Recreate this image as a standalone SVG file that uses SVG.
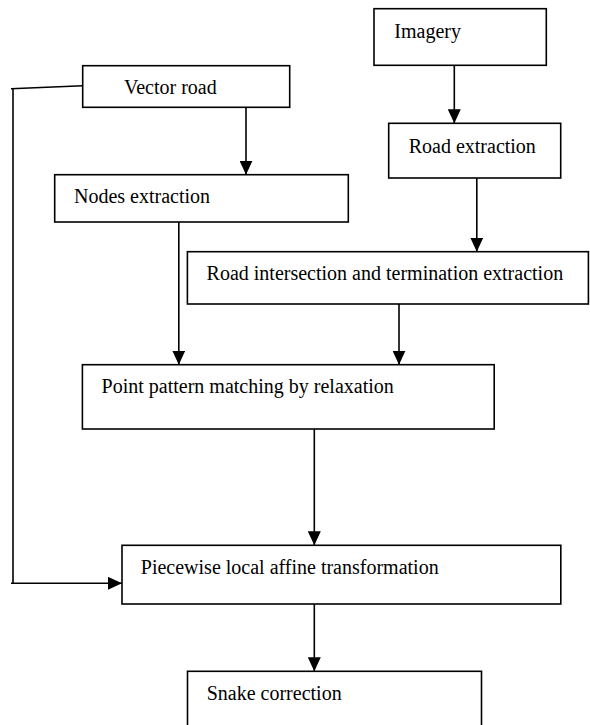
<svg xmlns="http://www.w3.org/2000/svg" width="590" height="725" viewBox="0 0 590 725">
<defs>
<marker id="ah" viewBox="0 0 14 13" refX="14" refY="6.5" markerWidth="14" markerHeight="13" markerUnits="userSpaceOnUse" orient="auto">
<path d="M0,0 L14,6.5 L0,13 Z" fill="#000"/>
</marker>
<style>
.box{fill:#fff;stroke:#000;stroke-width:1.6}
.lbl{font-family:"Liberation Serif","Times New Roman",serif;font-size:20px;fill:#000}
.ln{fill:none;stroke:#000;stroke-width:1.6}
</style>
</defs>
<rect width="590" height="725" fill="#fff"/>
<g id="connectors">
<path class="ln" d="M246,107.3 V174.7" marker-end="url(#ah)"/>
<path class="ln" d="M454.3,65.3 V123.3" marker-end="url(#ah)"/>
<path class="ln" d="M476.8,178 V251.7" marker-end="url(#ah)"/>
<path class="ln" d="M178.8,222 V364.7" marker-end="url(#ah)"/>
<path class="ln" d="M399,304 V364.7" marker-end="url(#ah)"/>
<path class="ln" d="M314.3,429 V545.3" marker-end="url(#ah)"/>
<path class="ln" d="M314.3,604 V671.3" marker-end="url(#ah)"/>
<path class="ln" d="M82.7,85.7 L11,88.7"/>
<path class="ln" d="M13,88 V583.3"/>
<path class="ln" d="M11,583.3 H122" marker-end="url(#ah)"/>
</g>
<g id="vector-road"><rect class="box" x="82.7" y="65.7" width="207" height="41.6"/><text class="lbl" x="124" y="94">Vector road</text></g>
<g id="imagery"><rect class="box" x="374" y="8.7" width="172.3" height="56.6"/><text class="lbl" x="394.3" y="38.3">Imagery</text></g>
<g id="road-extraction"><rect class="box" x="388.7" y="123.3" width="172" height="54.7"/><text class="lbl" x="408.7" y="152.7">Road extraction</text></g>
<g id="nodes-extraction"><rect class="box" x="54.7" y="174.7" width="293.6" height="47.3"/><text class="lbl" x="74" y="203">Nodes extraction</text></g>
<g id="road-intersection"><rect class="box" x="187.4" y="251.7" width="401" height="52.3"/><text class="lbl" x="206.6" y="280">Road intersection and termination extraction</text></g>
<g id="point-pattern"><rect class="box" x="82.4" y="364.7" width="411.8" height="64.3"/><text class="lbl" x="101.6" y="393.3">Point pattern matching by relaxation</text></g>
<g id="piecewise"><rect class="box" x="122" y="545.3" width="438.8" height="58.7"/><text class="lbl" x="140.8" y="574">Piecewise local affine transformation</text></g>
<g id="snake"><rect class="box" x="187.5" y="671.3" width="294" height="60"/><text class="lbl" x="206.7" y="700">Snake correction</text></g>
</svg>
